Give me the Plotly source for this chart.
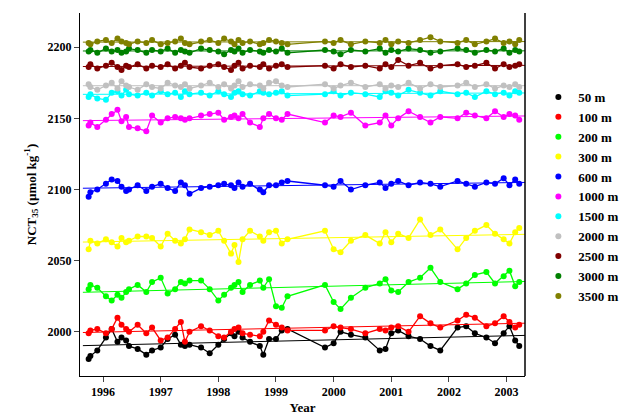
import numpy as np
import plotly.graph_objects as go

times = [1995.75, 1995.78, 1995.9, 1996.05, 1996.15, 1996.25, 1996.32, 1996.4, 1996.45, 1996.6,
         1996.75, 1996.85, 1997.0, 1997.12, 1997.25, 1997.35, 1997.42, 1997.5, 1997.7, 1997.85,
         1998.0, 1998.1, 1998.22, 1998.28, 1998.35, 1998.42, 1998.55, 1998.72, 1998.78, 1998.88,
         1999.0, 1999.1, 1999.2, 1999.85, 2000.0, 2000.12, 2000.3, 2000.55, 2000.8, 2000.9,
         2001.0, 2001.12, 2001.3, 2001.5, 2001.68, 2001.85, 2002.15, 2002.3, 2002.45, 2002.65,
         2002.8, 2002.95, 2003.05, 2003.15, 2003.22]

depths = ["50 m", "100 m", "200 m", "300 m", "600 m", "1000 m", "1500 m", "2000 m",
          "2500 m", "3000 m", "3500 m"]
colors = ["#000000", "#ff0000", "#00ff00", "#ffff00", "#0000ff", "#ff00ff", "#00ffff",
          "#c0c0c0", "#800000", "#008000", "#808000"]

v50 = [1981, 1983, 1987, 1996, 2002, 1993, 1996, 1994, 1990, 1988,
       1984, 1987, 1989, 1995, 1998, 1991, 1990, 1991, 1989, 1985,
       1991, 1995, 1999, 1997, 2000, 1996, 1993, 1990, 1984, 1995,
       1995, 2001, 2002, 1989, 1992, 2000, 1998, 1996, 1987, 1988,
       1999, 2001, 1997, 1995, 1990, 1987, 2003, 2004, 1999, 1996,
       1992, 1999, 2004, 1994, 1990]
v100 = [1999, 2001, 2002, 1999, 2002, 2010, 2005, 2002, 2000, 2005,
        1999, 2003, 1994, 1996, 2002, 2007, 1993, 2000, 2004, 2001,
        1997, 1996, 2000, 2002, 2003, 1999, 1998, 1997, 2000, 2008,
        2005, 2003, 2001, 2001, 2004, 2003, 2002, 1999, 2002, 2001,
        2003, 2004, 2000, 2011, 2006, 2003, 2008, 2012, 2010, 2004,
        2006, 2011, 2007, 2003, 2005]
v200 = [2030, 2033, 2031, 2025, 2022, 2026, 2024, 2028, 2030, 2033,
        2028, 2035, 2038, 2027, 2030, 2035, 2034, 2036, 2036, 2030,
        2022, 2026, 2031, 2033, 2035, 2028, 2033, 2036, 2031, 2037,
        2018, 2017, 2025, 2033, 2021, 2016, 2024, 2031, 2034, 2037,
        2029, 2028, 2035, 2038, 2045, 2035, 2030, 2034, 2040, 2042,
        2034, 2039, 2043, 2032, 2035]
v300 = [2058, 2064, 2062, 2065, 2063, 2060, 2066, 2063, 2064, 2067,
        2067, 2066, 2060, 2069, 2064, 2062, 2065, 2072, 2070, 2068,
        2071, 2064, 2055, 2061, 2049, 2065, 2071, 2067, 2064, 2070,
        2071, 2062, 2065, 2071, 2058, 2056, 2064, 2068, 2062, 2070,
        2063, 2069, 2066, 2079, 2068, 2072, 2058, 2066, 2071, 2075,
        2069, 2065, 2062, 2070, 2073]
v600 = [2095, 2098, 2100, 2104, 2107, 2106, 2102, 2099, 2100, 2103,
        2099, 2102, 2104, 2101, 2099, 2105, 2103, 2097, 2101, 2102,
        2103, 2104, 2103, 2101, 2105, 2102, 2104, 2100, 2098, 2103,
        2103, 2105, 2106, 2103, 2102, 2106, 2100, 2103, 2105, 2101,
        2104, 2106, 2103, 2105, 2104, 2102, 2106, 2104, 2102, 2105,
        2104, 2108, 2103, 2107, 2104]
v1000 = [2145, 2147, 2144, 2149, 2153, 2156, 2148, 2151, 2144, 2143,
         2141, 2152, 2147, 2150, 2151, 2150, 2149, 2150, 2152, 2153,
         2154, 2149, 2151, 2152, 2150, 2153, 2147, 2144, 2150, 2153,
         2150, 2149, 2153, 2147, 2152, 2151, 2154, 2145, 2147, 2152,
         2145, 2150, 2155, 2151, 2147, 2151, 2150, 2154, 2152, 2150,
         2155, 2151, 2153, 2152, 2149]
v1500 = [2165, 2167, 2164, 2163, 2168, 2169, 2166, 2170, 2167, 2166,
         2168, 2166, 2169, 2167, 2168, 2165, 2169, 2167, 2168, 2166,
         2169, 2167, 2165, 2168, 2169, 2167, 2166, 2169, 2168, 2167,
         2168, 2169, 2166, 2167, 2169, 2166, 2168, 2167, 2165, 2169,
         2168, 2166, 2170, 2168, 2166, 2169, 2167, 2168, 2165, 2169,
         2167, 2168, 2166, 2169, 2168]
v2000 = [2174, 2172, 2170, 2173, 2175, 2171, 2176, 2173, 2172, 2170,
         2174, 2172, 2171, 2175, 2173, 2172, 2174, 2171, 2173, 2175,
         2172, 2174, 2171, 2173, 2176, 2172, 2174, 2173, 2171, 2175,
         2176, 2173, 2172, 2174, 2171, 2173, 2175, 2172, 2174, 2171,
         2173, 2172, 2175, 2171, 2174, 2172, 2173, 2175, 2172, 2174,
         2171, 2173, 2172, 2174, 2172]
v2500 = [2186, 2188, 2185, 2187, 2189, 2186, 2184, 2187, 2186, 2188,
         2185, 2187, 2186, 2188, 2185, 2187, 2189, 2186, 2185, 2187,
         2188, 2186, 2184, 2187, 2189, 2185, 2187, 2186, 2188, 2185,
         2187, 2188, 2186, 2187, 2185, 2188, 2186, 2187, 2185, 2188,
         2186, 2191, 2187, 2189, 2185, 2187, 2188, 2186, 2187, 2189,
         2185, 2188, 2186, 2187, 2188]
v3000 = [2197, 2198, 2196, 2199, 2197, 2198, 2196, 2197, 2199, 2198,
         2196, 2198, 2197, 2199, 2196, 2198, 2197, 2196, 2199, 2198,
         2197, 2195, 2198, 2197, 2199, 2196, 2198, 2197, 2196, 2198,
         2197, 2199, 2196, 2198, 2197, 2195, 2198, 2197, 2199, 2196,
         2198, 2197, 2199, 2198, 2196, 2197, 2199, 2198, 2196, 2198,
         2197, 2199, 2196, 2198, 2197]
v3500 = [2203, 2202, 2204, 2205, 2203, 2206, 2204, 2203, 2202, 2204,
         2203, 2205, 2202, 2203, 2204, 2206, 2203, 2202, 2204, 2205,
         2203, 2206, 2204, 2202, 2205, 2203, 2204, 2202, 2203, 2205,
         2204, 2203, 2202, 2204, 2203, 2205, 2202, 2204, 2203, 2205,
         2202, 2204, 2203, 2205, 2207, 2204, 2203, 2205, 2202, 2204,
         2206, 2203, 2204, 2202, 2205]

series = [v50, v100, v200, v300, v600, v1000, v1500, v2000, v2500, v3000, v3500]
year_ticks = [1996, 1997, 1998, 1999, 2000, 2001, 2002, 2003]

fig = go.Figure()

for name, col, vals in zip(depths, colors, series):
    # linear trend through the series
    k, b = np.polyfit(times, vals, 1)
    fig.add_trace(go.Scatter(
        x=[times[0] - 0.1, times[-1] + 0.1],
        y=[k * (times[0] - 0.1) + b, k * (times[-1] + 0.1) + b],
        mode="lines", line=dict(color=col, width=1), showlegend=False
    ))
    fig.add_trace(go.Scatter(
        x=times, y=vals, mode="lines+markers",
        line=dict(color=col, width=1.3),
        marker=dict(color=col, size=6),
        showlegend=False
    ))
    fig.add_trace(go.Scatter(
        x=[None], y=[None], mode="markers", name="<b>%s</b>" % name,
        marker=dict(color=col, size=6)
    ))

fig.update_layout(
    width=638, height=414,
    template="none",
    paper_bgcolor="white", plot_bgcolor="white",
    margin=dict(l=72, r=121, t=5, b=46),
    font=dict(family="Liberation Serif", size=12, color="black"),
    legend=dict(
        x=1.03, y=0.81, xanchor="left", yanchor="top",
        font=dict(family="Liberation Serif", size=13),
        itemwidth=30, tracegroupgap=0
    ),
    xaxis=dict(
        range=[1995.6, 2003.32],
        tickvals=year_ticks,
        ticktext=["<b>%d</b>" % t for t in year_ticks],
        ticks="outside", ticklen=5, showgrid=False, zeroline=False,
        showline=True, linecolor="black", mirror=False,
        tickfont=dict(family="Liberation Serif", size=12),
        title=dict(text="<b>Year</b>", font=dict(size=13), standoff=4)
    ),
    yaxis=dict(
        range=[1969, 2224],
        tickvals=[2000, 2050, 2100, 2150, 2200],
        ticktext=["<b>2000</b>", "<b>2050</b>", "<b>2100</b>", "<b>2150</b>", "<b>2200</b>"],
        ticks="outside", ticklen=5, showgrid=False, zeroline=False,
        showline=True, linecolor="black", mirror=False,
        title=dict(text="<b>NCT<sub>35</sub> (µmol kg<sup>-1</sup>)</b>", font=dict(size=13), standoff=8)
    ),
    shapes=[dict(type="line", xref="paper", yref="paper", x0=1, x1=1, y0=0, y1=1,
                 line=dict(color="black", width=1.5))]
)

fig.write_html("out.html")
